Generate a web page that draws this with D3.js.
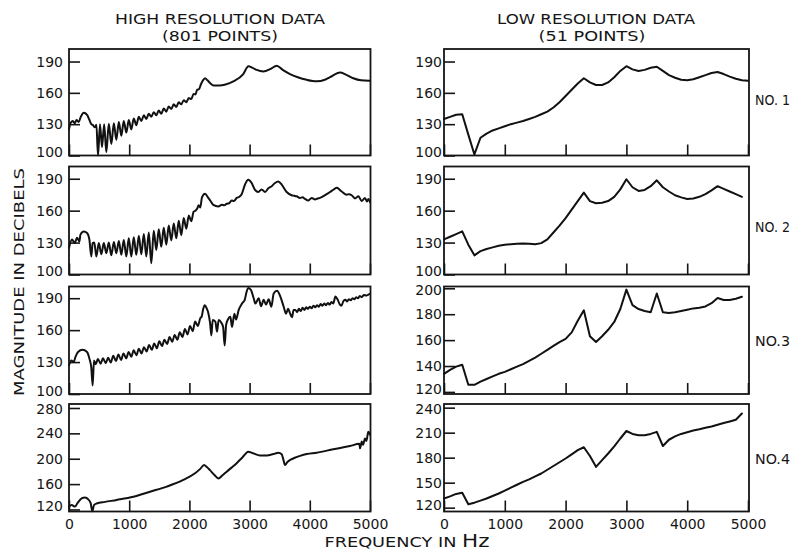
<!DOCTYPE html>
<html><head><meta charset="utf-8">
<script src="https://cdn.jsdelivr.net/npm/d3@7"></script>
<style>
body{margin:0;background:#fff}
svg{display:block}
text{font-family:"DejaVu Sans",sans-serif;fill:#151515}
</style>
</head><body>
<svg id="c" width="797" height="550"></svg>
<script>
// ---------------- DATA ----------------
// High resolution spectra (801 points) : [frequency Hz, magnitude dB]
const hiRes1 = [[0,125],[25,131],[60,133],[95,131],[125,134],[160,132],[195,137],[245,141],[300,139],[340,134],[370,130],[400,129],[430,127],[455,129.5],[482,100],[515,130],[548,108],[584,130],[620,103],[661,130.5],[703,111],[745,131],[786,115],[828,132],[869,119],[910,133],[952,122],[993,134],[1035,125],[1076,135.5],[1118,129],[1160,137],[1201,133],[1243,138.5],[1284,135],[1325,140],[1367,137],[1408,141.5],[1450,138.5],[1491,143],[1533,140],[1574,145],[1616,142],[1657,147],[1699,144.5],[1740,149],[1782,146.5],[1823,151],[1865,149],[1906,153],[1948,151],[1990,155],[2031,154],[2070,159],[2100,158.5],[2130,163],[2160,163.5],[2190,168],[2225,172],[2260,174],[2300,172],[2350,169],[2400,167],[2500,167],[2600,168],[2730,171],[2895,178],[2980,185.5],[3050,184],[3118,182],[3228,180.5],[3350,183],[3450,186],[3550,182],[3671,178],[3800,175],[3948,172.5],[4114,171],[4250,172.5],[4336,175],[4502,179.5],[4600,177.5],[4723,174],[4850,172],[4989,171.5]];

const hiRes2 = [[0,125],[50,133],[95,129.5],[133,134.5],[172,131],[190,137.5],[245,140.5],[300,139],[338,133],[371,117],[393,129.5],[420,130],[454,117],[495,129.5],[537,119],[578,129.5],[620,120],[661,130],[703,118],[745,130.5],[786,120],[828,131.5],[869,118.5],[910,132.5],[952,117],[993,134],[1035,117],[1076,135],[1118,118.5],[1160,136.5],[1201,119],[1243,138],[1284,117],[1325,139.5],[1367,110.5],[1408,141],[1450,123],[1491,142.5],[1533,126],[1574,144],[1616,128],[1657,146],[1699,132],[1740,148],[1782,134],[1823,150.5],[1865,137],[1906,153],[1948,143],[1990,155.5],[2031,150],[2070,159],[2100,160],[2130,162],[2154,165],[2180,163],[2209,172.5],[2259,176],[2314,172],[2347,169.5],[2397,165.5],[2480,164],[2540,165.5],[2580,165],[2619,166.5],[2660,167],[2702,169.5],[2740,169],[2785,172],[2830,173],[2868,175.5],[2923,184.5],[2979,189],[3034,186],[3090,179.5],[3145,177.5],[3200,180],[3256,177.5],[3311,181],[3367,183],[3422,186],[3477,187.5],[3533,184.5],[3616,177.5],[3699,174.5],[3740,174],[3782,173.5],[3837,172],[3880,172.5],[3920,171],[3976,169.5],[4031,172],[4087,170.5],[4130,171.5],[4170,172],[4253,174.5],[4336,177.5],[4400,180],[4447,181.5],[4530,178],[4613,175],[4650,175.5],[4696,174.5],[4751,171.5],[4807,173.5],[4862,169],[4917,172],[4950,168.5],[4973,171],[5000,168]];

const hiRes3 = [[0,127],[40,131.5],[80,130],[105,134.5],[150,139.5],[225,141.5],[300,139.5],[340,133],[370,125],[393,108],[415,131.5],[445,128],[480,133],[525,128.5],[565,133.5],[610,129],[650,134],[695,129.5],[735,136],[780,131],[820,137],[865,132],[905,138],[950,133.5],[990,139.5],[1035,135],[1075,141],[1120,136.5],[1160,142.5],[1205,138],[1245,144],[1290,140],[1330,146],[1375,141.5],[1415,147.5],[1460,143],[1500,149.5],[1545,145],[1585,151],[1630,147],[1670,153.5],[1715,149],[1755,155.5],[1800,151],[1840,158],[1885,153.5],[1925,161],[1970,156],[2010,164],[2055,159],[2095,168],[2140,164],[2180,171],[2205,173],[2230,180],[2255,183.5],[2290,180],[2310,177],[2345,166],[2365,155],[2387,169.5],[2431,168],[2459,158.5],[2486,169.5],[2530,167],[2560,163],[2586,145.5],[2610,165],[2640,170],[2680,172.5],[2708,163],[2747,175.5],[2775,170],[2819,179],[2874,185],[2919,188.5],[2950,196],[2975,199.5],[3018,198],[3068,190],[3096,185],[3151,190],[3190,182.5],[3234,188.5],[3273,184],[3317,189],[3361,182],[3400,194.5],[3456,197],[3511,191.5],[3566,182],[3605,175.5],[3640,180],[3670,176],[3705,172],[3730,179],[3760,179],[3790,177],[3820,180],[3850,178],[3880,181],[3910,179],[3940,181.5],[3970,180],[4000,182],[4030,180.5],[4060,183],[4090,181.5],[4120,183.5],[4150,182],[4180,184.5],[4210,183],[4240,185],[4270,183.5],[4300,185.5],[4330,184],[4360,186.5],[4390,185],[4425,191.5],[4460,189],[4500,184],[4525,183],[4560,187.5],[4592,188.5],[4620,187],[4650,189],[4680,188],[4710,190],[4740,189],[4770,191],[4800,190],[4830,192],[4860,191],[4900,193],[4940,192.5],[4990,194]];

const hiRes4 = [[0,124.5],[45,127],[100,124.5],[140,130],[210,137.5],[265,139],[320,136],[360,130],[388,117],[415,127],[460,129.5],[600,132],[792,135],[1069,140],[1345,148],[1622,156],[1899,166.5],[2093,177],[2180,184],[2243,190],[2290,187],[2342,182],[2420,174],[2481,169],[2550,174],[2619,179.5],[2700,186],[2785,193],[2880,202],[2979,211],[3020,210],[3062,208.5],[3173,205],[3260,205],[3339,206],[3420,208],[3477,209.5],[3533,207],[3560,199],[3588,190],[3630,195],[3671,198],[3750,201.5],[3837,204.5],[3950,207.5],[4114,209.5],[4391,215],[4668,220],[4823,223.5],[4834,216.5],[4850,222],[4862,227],[4885,222],[4917,232],[4940,228],[4972,242.5],[5000,238]];

// Low resolution spectra (51 points, 100 Hz apart starting at 0 Hz) : magnitude dB
const loStepHz = 100;
const loRes1 = [135,137,139,139.5,120,101,117,121,124,126,128,130,131.5,133,135,137,139.5,142,146,151,157,163,169,174,170,167.5,167.5,170,175,181,185.5,182.5,181,182,184,185,181,177,174.5,172.5,172,173,175,177,179,180,178,175.5,173.5,172,171.5];
const loRes2 = [133,135.5,138,140.5,128,118,122,124,125.5,127,128,128.5,129,129.2,129,128.5,129.5,133,139.5,146,153,161,169,177,169,167,167.5,169,173,180,189.5,182,178.5,179.5,183,188.5,182,178,174.5,172.5,171,171.5,173,175.5,179,183,180.5,178,175.5,173];
const loRes3 = [134,137,139.5,141,125.5,125.5,128,130,132,134,135.5,137.5,139.5,141.5,144,146.5,149.5,152.5,155.5,158.5,161,166,175,183,163,158.5,163,168,174,184,199,187,184,182.5,181.5,196,181.5,181,181.5,182.5,183.5,184.5,185,186,188.5,192.5,191,191,192,193.5];
const loRes4 = [131,133.5,136.5,138,124,126,128.5,131,134,137,140.5,144,147.5,151,154,157.5,161,165.5,170,174.5,179,184,189,192.5,182,169,177,185,193.5,203,212,208.5,207,207,208.5,211,194,201.5,205.5,208.5,210.5,212.5,214,216,217.5,219.5,221.5,223.5,225.5,233];

// Axis ticks and labels
const xTickValues = [0,1000,2000,3000,4000,5000];
const yTicksLeft  = [[100,130,160,190],[100,130,160,190],[100,130,160,190],[120,160,200,240,280]];
const yTicksRight = [[100,130,160,190],[100,130,160,190],[120,140,160,180,200],[120,150,180,210,240]];
const yDomainLeft  = [[100,202],[100,201.5],[100,201],[116.8,286.3]];
const yDomainRight = [[100,202],[100,201.5],[118.4,201.4],[115.4,244.4]];
const caseLabels = ["NO. 1","NO. 2","NO.3","NO.4"];

// ---------------- LAYOUT ----------------
const svg = d3.select("#c");
const rows = [{top:49,bottom:155.5},{top:166.5,bottom:274.5},{top:286.5,bottom:394},{top:404,bottom:511.5}];
const cols = [{x0:69,x1:370,frameR:370.5,pad:6},{x0:444,x1:748,frameR:749,pad:2}];
const caseY = [100,227,341,459];

const hiSeries = [hiRes1,hiRes2,hiRes3,hiRes4];
const loSeries = [loRes1,loRes2,loRes3,loRes4].map(a => a.map((v,i)=>[i*loStepHz, v]));

function drawPanel(col, row, ydom, yticks, data, showXLabels, curve){
  const x = d3.scaleLinear().domain([0,5000]).range([col.x0, col.x1]);
  const y = d3.scaleLinear().domain(ydom).range([row.bottom, row.top]);
  const g = svg.append("g");
  const lo = d3.min(yticks), hi = d3.max(yticks);

  // y axis (ticks point inward)
  const ay = g.append("g").attr("transform",`translate(${col.x0},0)`)
    .call(d3.axisLeft(y).tickValues(yticks).tickSize(-11).tickPadding(col.pad).tickFormat(d3.format("d")));
  ay.select(".domain").remove();
  ay.selectAll("line").attr("stroke","#151515").attr("stroke-width",1.6);
  ay.selectAll("text").attr("font-size",14).attr("font-family","DejaVu Sans").attr("fill","#151515")
    .attr("y", d => (d === lo && y(d) > row.bottom - 4) ? -3 : (d === hi && y(d) < row.top + 4) ? 1.5 : 0);

  // x axis
  const ax = g.append("g").attr("transform",`translate(0,${row.bottom})`)
    .call(d3.axisBottom(x).tickValues(xTickValues).tickSize(-11).tickPadding(8)
      .tickFormat(showXLabels ? d3.format("d") : ""));
  ax.select(".domain").remove();
  ax.selectAll("line").attr("stroke","#151515").attr("stroke-width",1.6);
  ax.selectAll("text").attr("font-size",14).attr("font-family","DejaVu Sans").attr("fill","#151515");

  // frame
  g.append("rect").attr("x",col.x0).attr("y",row.top)
    .attr("width",col.frameR-col.x0).attr("height",row.bottom-row.top)
    .attr("fill","none").attr("stroke","#151515").attr("stroke-width",1.8);

  // data line
  g.append("path").datum(data)
    .attr("fill","none").attr("stroke","#111").attr("stroke-width",2)
    .attr("stroke-linejoin","round").attr("stroke-linecap","round")
    .attr("d", d3.line().x(d=>x(d[0])).y(d=>y(d[1])).curve(curve));
}

for(let r=0;r<4;r++){
  drawPanel(cols[0], rows[r], yDomainLeft[r], yTicksLeft[r], hiSeries[r], r===3, d3.curveMonotoneX);
  drawPanel(cols[1], rows[r], yDomainRight[r], yTicksRight[r], loSeries[r], r===3, d3.curveLinear);
  svg.append("text").attr("x",755).attr("y",caseY[r]+5).attr("font-size",14)
    .attr("textLength",35).attr("lengthAdjust","spacingAndGlyphs").text(caseLabels[r]);
}

// titles
function title(x,y,txt,len){
  svg.append("text").attr("x",x).attr("y",y).attr("text-anchor","middle")
    .attr("font-size",14.5).attr("textLength",len).attr("lengthAdjust","spacingAndGlyphs").text(txt);
}
title(220,24,"HIGH RESOLUTION DATA",210);
title(220,41,"(801 POINTS)",116);
title(596,24,"LOW RESOLUTION DATA",198);
title(592,41,"(51 POINTS)",107);

// axis titles
svg.append("text").attr("transform","translate(24,282) rotate(-90)").attr("text-anchor","middle")
  .attr("font-size",14.5).attr("textLength",228).attr("lengthAdjust","spacingAndGlyphs")
  .text("MAGNITUDE IN DECIBELS");
const xt = svg.append("text").attr("x",407).attr("y",547).attr("text-anchor","middle")
  .attr("font-size",14).attr("textLength",165).attr("lengthAdjust","spacingAndGlyphs");
xt.append("tspan").text("FREQUENCY IN ");
xt.append("tspan").attr("font-size",17).text("Hz");
</script>
</body></html>
